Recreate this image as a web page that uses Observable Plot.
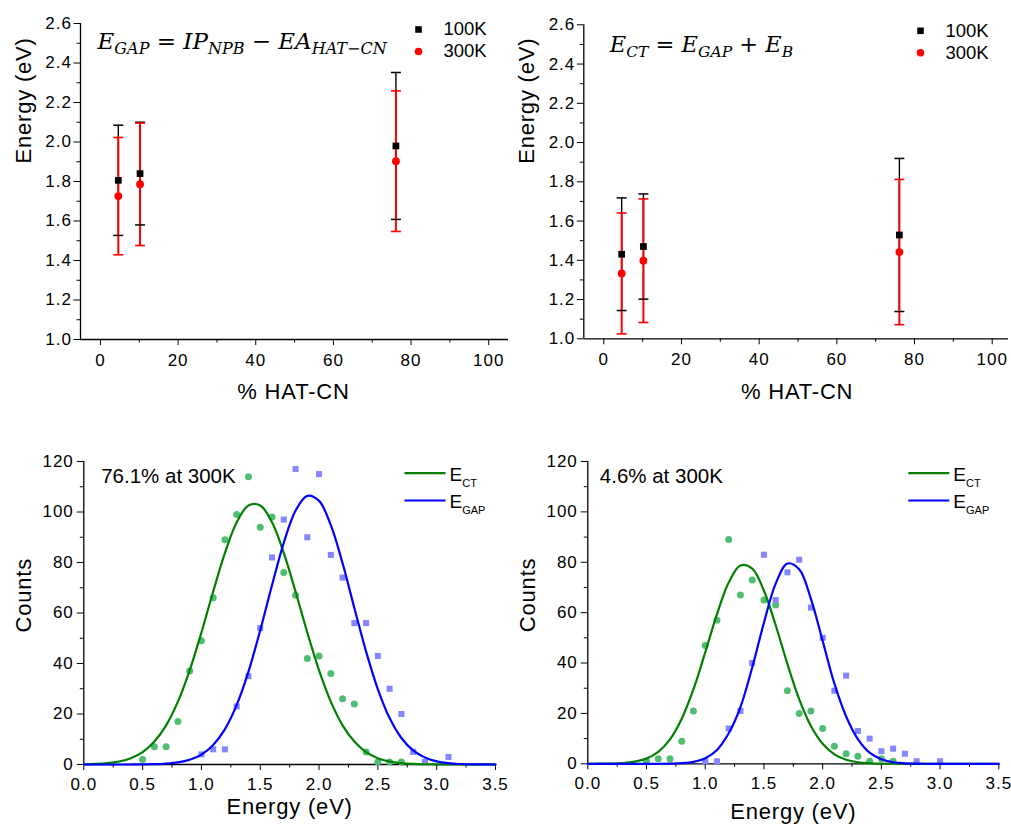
<!DOCTYPE html>
<html><head><meta charset="utf-8">
<script src="https://cdn.jsdelivr.net/npm/d3@7"></script>
<script src="https://cdn.jsdelivr.net/npm/@observablehq/plot@0.6"></script>
<style>
body{margin:0;background:#fff;}
#wrap{position:relative;width:1011px;height:826px;overflow:hidden;background:#fff;}
#wrap svg{position:absolute;overflow:visible;}
#wrap g[aria-label="x-axis tick label"] text, #wrap g[aria-label="y-axis tick label"] text{letter-spacing:1px;}
#wrap text.title{letter-spacing:0.8px;}
</style></head><body><div id="wrap"></div>
<script>
// ---------- data ----------
const pctHAT = [4.6, 10.2, 76.1];
// top-left: E_GAP
const gap100 = [1.806, 1.840, 1.980];
const gap100Err = [0.279, 0.260, 0.372];
const gap300 = [1.726, 1.786, 1.903];
const gap300Err = [0.297, 0.310, 0.356];
// top-right: E_CT
const ct100 = [1.431, 1.470, 1.529];
const ct100Err = [0.287, 0.268, 0.390];
const ct300 = [1.333, 1.398, 1.442];
const ct300Err = [0.308, 0.315, 0.370];

const pctTicks = [0, 20, 40, 60, 80, 100];
const pctMinor = [10, 30, 50, 70, 90];
const energyTicks = [1.0, 1.2, 1.4, 1.6, 1.8, 2.0, 2.2, 2.4, 2.6];
const energyMinor = [1.1, 1.3, 1.5, 1.7, 1.9, 2.1, 2.3, 2.5];
const evTicks = [0, 0.5, 1.0, 1.5, 2.0, 2.5, 3.0, 3.5];
const evMinor = [0.25, 0.75, 1.25, 1.75, 2.25, 2.75, 3.25];
const countTicks = [0, 20, 40, 60, 80, 100, 120];
const countMinor = [10, 30, 50, 70, 90, 110];

// bottom-left: 76.1% at 300K
const blCtE = [0.5,0.6,0.7,0.8,0.9,1.0,1.1,1.2,1.3,1.4,1.5,1.6,1.7,1.8,1.9,2.0,2.1,2.2,2.3,2.4,2.5,2.6,2.7];
const blCtN = [2,7,7,17,37,49,66,89,99,114,94,98,76,67,42,43,36,26,24,5,1,1,1];
const blGapE = [1.0,1.1,1.2,1.3,1.4,1.5,1.6,1.7,1.8,1.9,2.0,2.1,2.2,2.3,2.4,2.5,2.6,2.7,2.8,2.9,3.1];
const blGapN = [4,6,6,23,35,54,82,97,117,90,115,83,74,56,56,43,30,20,5,1,3];
// bottom-right: 4.6% at 300K
const brCtE = [0.5,0.6,0.7,0.8,0.9,1.0,1.1,1.2,1.3,1.4,1.5,1.6,1.7,1.8,1.9,2.0,2.1,2.2,2.3,2.4,2.5,2.6];
const brCtN = [1,2,2,9,21,47,57,89,67,73,65,63,29,20,21,14,7,4,3,1,2,1];
const brGapE = [1.0,1.1,1.2,1.3,1.4,1.5,1.6,1.7,1.8,1.9,2.0,2.1,2.2,2.3,2.4,2.5,2.6,2.7,2.8,3.0];
const brGapN = [1,1,14,21,40,83,65,76,81,62,50,29,35,13,10,5,6,4,1,1];

// fitted curves
const fitE = [0,0.1,0.2,0.3,0.4,0.5,0.6,0.7,0.8,0.9,1.0,1.1,1.2,1.3,1.4,1.5,1.6,1.7,1.8,1.9,2.0,2.1,2.2,2.3,2.4,2.5,2.6,2.7,2.8,2.9,3.0,3.1,3.2,3.3,3.4,3.5];
const blCtFit = [0.09,0.22,0.53,1.2,2.5,4.9,9.1,15.5,24.9,37.3,52.3,68.5,83.8,95.9,102.6,102.6,95.9,83.8,68.5,52.3,37.3,24.9,15.5,9.1,4.9,2.5,1.2,0.53,0.22,0.09,0.03,0.01,0,0,0,0];
const blGapFit = [0,0,0,0,0.01,0.04,0.12,0.33,0.81,1.85,3.93,7.72,14.0,23.6,36.8,53.2,71.0,87.8,100.5,106.4,104.4,94.8,79.7,62.0,44.7,29.8,18.4,10.5,5.56,2.73,1.24,0.52,0.2,0.07,0.02,0.01];
const brCtFit = [0.01,0.03,0.1,0.3,0.84,2.1,4.76,9.72,17.9,29.6,44.2,59.4,72.0,78.7,77.5,68.7,55.0,39.6,25.7,15.0,7.94,3.77,1.61,0.62,0.22,0.07,0.02,0,0,0,0,0,0,0,0,0];
const brGapFit = [0,0,0,0,0,0,0.01,0.06,0.23,0.75,2.17,5.48,12.1,22.5,38.2,56.0,71.5,79.5,77.2,65.5,48.8,31.8,18.8,9.8,4.4,1.8,0.6,0.2,0.05,0.01,0,0,0,0,0,0];

// ---------- helpers ----------
const FONT = "'Liberation Sans', Arial, sans-serif";
const SERIF = "'DejaVu Serif', 'Liberation Serif', serif";
const TICK = 17, TITLE = 22;
const errRows = (v, e) => pctHAT.map((p, i) => ({p, v: v[i], lo: v[i] - e[i], hi: v[i] + e[i]}));
const pts = (E, N) => E.map((e, i) => ({e, n: N[i]}));
const capSym = {draw(ctx) { ctx.moveTo(-5, 0); ctx.lineTo(5, 0); }};
const legLine = {draw(ctx) { ctx.moveTo(-20.5, 0); ctx.lineTo(20.5, 0); }};

function rich(svg, key, parts, mainSize, subSize, shift, italic) {
  d3.select(svg).selectAll("text").filter(function () { return this.textContent === key; }).each(function () {
    const t = d3.select(this);
    t.text(null);
    let down = false;
    for (const part of parts) {
      const ts = t.append("tspan").text(part.t);
      ts.attr("font-size", part.sub ? subSize : mainSize);
      if (italic) ts.attr("font-style", part.up ? "normal" : "italic");
      if (part.sub && !down) { ts.attr("dy", shift); down = true; }
      else if (!part.sub && down) { ts.attr("dy", -shift); down = false; }
    }
  });
}

function markTitles(svg, names) {
  d3.select(svg).selectAll("text").filter(function () { return names.includes(this.textContent); }).classed("title", true);
}

function place(svg, left, top) {
  svg.style.left = left + "px";
  svg.style.top = top + "px";
  document.getElementById("wrap").appendChild(svg);
}

function topPanel(o) {
  const b = errRows(o.v100, o.e100), r = errRows(o.v300, o.e300);
  return Plot.plot({
    width: o.width, height: 400,
    marginLeft: o.mL, marginRight: o.mR, marginTop: o.mT, marginBottom: 400 - o.bottom,
    style: {fontFamily: FONT, fontSize: "16px", color: "#000", background: "transparent", overflow: "visible"},
    x: {domain: o.xDomain},
    y: {domain: [1.0, 2.6]},
    marks: [
      Plot.axisX(pctTicks, {tickSize: 6, tickPadding: 8, label: null, tickFormat: d => String(d), fontSize: TICK}),
      Plot.axisX(pctMinor, {tickSize: 3.5, label: null, tickFormat: () => ""}),
      Plot.axisY(energyTicks, {tickSize: 6.5, tickPadding: 2, label: null, tickFormat: d3.format(".1f"), fontSize: TICK}),
      Plot.axisY(energyMinor, {tickSize: 3.5, label: null, tickFormat: () => ""}),
      Plot.ruleY([1.0], {strokeWidth: 1.3}),
      Plot.ruleX([o.xDomain[0]], {strokeWidth: 1.3}),
      Plot.ruleX(b, {x: "p", y1: "lo", y2: "hi", stroke: "#000", strokeWidth: 1.4}),
      Plot.ruleX(r, {x: "p", y1: "lo", y2: "hi", stroke: "#ff0000", strokeWidth: 2}),
      Plot.dot(b, {x: "p", y: "hi", symbol: capSym, stroke: "#000", strokeWidth: 1.5}),
      Plot.dot(b, {x: "p", y: "lo", symbol: capSym, stroke: "#000", strokeWidth: 1.5}),
      Plot.dot(r, {x: "p", y: "hi", symbol: capSym, stroke: "#ff0000", strokeWidth: 1.6}),
      Plot.dot(r, {x: "p", y: "lo", symbol: capSym, stroke: "#ff0000", strokeWidth: 1.6}),
      Plot.dot(b, {x: "p", y: "v", symbol: "square", fill: "#000", r: 3.8}),
      Plot.dot(r, {x: "p", y: "v", symbol: "circle", fill: "#ff0000", r: 3.9}),
      // legend
      Plot.dot([0], {frameAnchor: "top-right", dx: o.legDx, dy: 6, symbol: "square", fill: "#000", r: 3.7}),
      Plot.dot([0], {frameAnchor: "top-right", dx: o.legDx, dy: 28, symbol: "circle", fill: "#ff0000", r: 3.8}),
      Plot.text(["100K"], {frameAnchor: "top-right", dx: o.legDx + 25, dy: 6, textAnchor: "start", lineAnchor: "middle", fontSize: 18.5}),
      Plot.text(["300K"], {frameAnchor: "top-right", dx: o.legDx + 25, dy: 28, textAnchor: "start", lineAnchor: "middle", fontSize: 18.5}),
      // formula
      Plot.text([o.formulaKey], {frameAnchor: "top-left", dx: o.fDx, dy: o.fDy, textAnchor: "start", lineAnchor: "bottom", fontSize: 23, fontFamily: SERIF}),
      // titles
      Plot.text(["% HAT-CN"], {frameAnchor: "bottom", dx: o.xtDx, dy: o.xtDy, lineAnchor: "middle", fontSize: TITLE}),
      Plot.text(["Energy (eV)"], {frameAnchor: "left", dx: o.ytDx, dy: o.ytDy, rotate: -90, lineAnchor: "middle", fontSize: TITLE})
    ]
  });
}

function bottomPanel(o) {
  const ctFit = fitE.map((e, i) => ({e, n: o.ctFit[i]}));
  const gapFit = fitE.map((e, i) => ({e, n: o.gapFit[i]}));
  return Plot.plot({
    width: o.width, height: 406,
    marginLeft: o.mL, marginRight: o.mR, marginTop: o.mT, marginBottom: o.mB,
    style: {fontFamily: FONT, fontSize: "16px", color: "#000", background: "transparent", overflow: "visible"},
    x: {domain: [0, 3.5]},
    y: {domain: [0, 120]},
    marks: [
      Plot.axisX(evTicks, {tickSize: 6, tickPadding: 7, label: null, tickFormat: d3.format(".1f"), fontSize: TICK}),
      Plot.axisX(evMinor, {tickSize: 3.5, label: null, tickFormat: () => ""}),
      Plot.axisY(countTicks, {tickSize: 6.5, tickPadding: 3.5, label: null, tickFormat: d => String(d), fontSize: TICK}),
      Plot.axisY(countMinor, {tickSize: 3.5, label: null, tickFormat: () => ""}),
      Plot.ruleY([0], {strokeWidth: 1.3}),
      Plot.ruleX([0], {strokeWidth: 1.3}),
      Plot.dot(o.ct, {x: "e", y: "n", fill: "#50bd72", r: 3.5}),
      Plot.dot(o.gap, {x: "e", y: "n", symbol: "square", fill: "#8585ff", r: 3.4}),
      Plot.line(ctFit, {x: "e", y: "n", stroke: "#008000", strokeWidth: 2.2, curve: "catmull-rom"}),
      Plot.line(gapFit, {x: "e", y: "n", stroke: "#0000ff", strokeWidth: 2.2, curve: "catmull-rom"}),
      // label
      Plot.text([o.label], {frameAnchor: "top-left", dx: o.lDx, dy: 21, textAnchor: "start", lineAnchor: "bottom", fontSize: 20.5}),
      // legend
      Plot.dot([0], {frameAnchor: "top-right", dx: o.legDx, dy: 11.7, symbol: legLine, stroke: "#008000", strokeWidth: 2.2}),
      Plot.dot([0], {frameAnchor: "top-right", dx: o.legDx, dy: 39, symbol: legLine, stroke: "#0000ff", strokeWidth: 2.2}),
      Plot.text(["KEY_ECT"], {frameAnchor: "top-right", dx: o.legDx + 24.5, dy: 19, textAnchor: "start", lineAnchor: "bottom", fontSize: 19}),
      Plot.text(["KEY_EGAP"], {frameAnchor: "top-right", dx: o.legDx + 24.5, dy: 46, textAnchor: "start", lineAnchor: "bottom", fontSize: 19}),
      // titles
      Plot.text(["Energy (eV)"], {frameAnchor: "bottom", dx: 0, dy: o.xtDy, lineAnchor: "middle", fontSize: TITLE}),
      Plot.text(["Counts"], {frameAnchor: "left", dx: o.ytDx, dy: o.ytDy, rotate: -90, lineAnchor: "middle", fontSize: TITLE})
    ]
  });
}

// ---------- build ----------
const tl = topPanel({width: 510, mL: 80, mR: 2, mT: 23, bottom: 339, xDomain: [-5.14, 105.1],
  v100: gap100, e100: gap100Err, v300: gap300, e300: gap300Err, legDx: -90,
  formulaKey: "KEY_FGAP", fDx: 17, fDy: 25, xtDx: -1, xtDy: 52, ytDx: -57, ytDy: -18});
rich(tl, "KEY_FGAP", [{t: "E"}, {t: "GAP", sub: 1}, {t: " = ", up: 1}, {t: "IP"}, {t: "NPB", sub: 1}, {t: " − ", up: 1}, {t: "EA"}, {t: "HAT−CN", sub: 1}], 23, 16, 5, true);
markTitles(tl, ["% HAT-CN", "Energy (eV)"]);
place(tl, 0, 0);

const tr = topPanel({width: 506, mL: 78.3, mR: 3, mT: 24.3, bottom: 338.3, xDomain: [-5.15, 104.2],
  v100: ct100, e100: ct100Err, v300: ct300, e300: ct300Err, legDx: -88,
  formulaKey: "KEY_FCT", fDx: 26, fDy: 27, xtDx: 1, xtDy: 53, ytDx: -57, ytDy: -18});
rich(tr, "KEY_FCT", [{t: "E"}, {t: "CT", sub: 1}, {t: " = ", up: 1}, {t: "E"}, {t: "GAP", sub: 1}, {t: " + ", up: 1}, {t: "E"}, {t: "B", sub: 1}], 22.5, 15.5, 5, true);
markTitles(tr, ["% HAT-CN", "Energy (eV)"]);
place(tr, 505, 0);

const bl = bottomPanel({width: 505, mL: 83.3, mR: 10, mT: 41, mB: 62,
  ct: pts(blCtE, blCtN), gap: pts(blGapE, blGapN), ctFit: blCtFit, gapFit: blGapFit,
  label: "76.1% at 300K", lDx: 17.4, legDx: -70.5, xtDy: 42, ytDx: -60, ytDy: 19.5});
place(bl, 0, 420);

const br = bottomPanel({width: 506, mL: 82.3, mR: 12.7, mT: 41, mB: 62.7,
  ct: pts(brCtE, brCtN), gap: pts(brGapE, brGapN), ctFit: brCtFit, gapFit: brGapFit,
  label: "4.6% at 300K", lDx: 12, legDx: -70, xtDy: 48, ytDx: -60, ytDy: 19.5});
place(br, 505, 420);

for (const s of [bl, br]) {
  rich(s, "KEY_ECT", [{t: "E"}, {t: "CT", sub: 1}], 19, 11, 6, false);
  rich(s, "KEY_EGAP", [{t: "E"}, {t: "GAP", sub: 1}], 19, 11, 6, false);
  markTitles(s, ["Counts", "Energy (eV)"]);
}
</script></body></html>
